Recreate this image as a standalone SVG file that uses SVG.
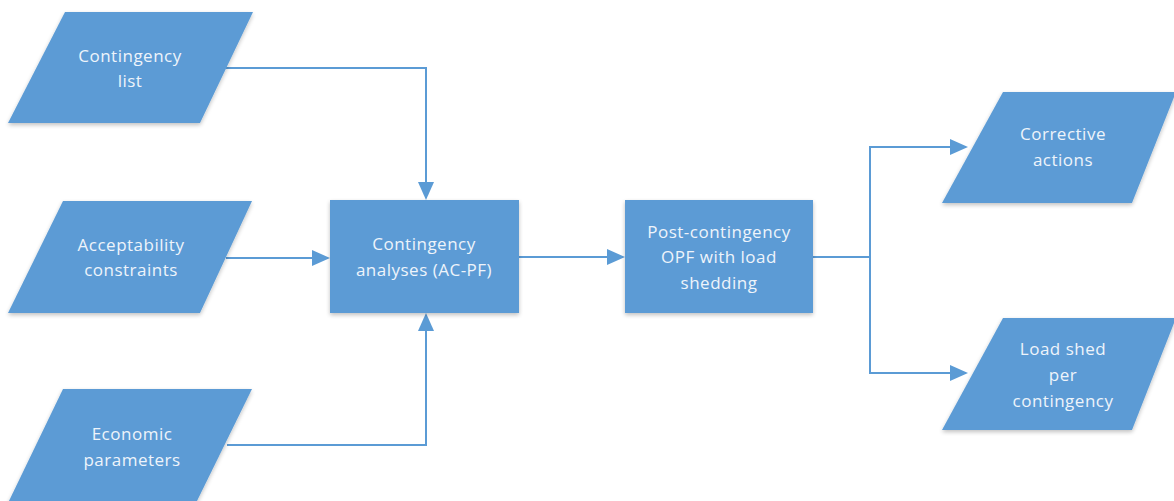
<svg xmlns="http://www.w3.org/2000/svg" width="1174" height="501" viewBox="0 0 1174 501">
<style>
.shape{fill:#5b9bd5;filter:url(#sh)}
.lbl{font-family:"Open Sans","Liberation Sans",sans-serif;font-size:17px;letter-spacing:0.5px;fill:#eef4fb;text-anchor:middle}
.conn{fill:none;stroke:#5b9bd5;stroke-width:2;marker-end:url(#arr)}
</style>
<defs>
<filter id="sh" x="-10%" y="-10%" width="120%" height="130%">
<feGaussianBlur in="SourceAlpha" stdDeviation="2"/>
<feOffset dx="0" dy="2" result="b"/>
<feComponentTransfer><feFuncA type="linear" slope="0.25"/></feComponentTransfer>
<feMerge><feMergeNode/><feMergeNode in="SourceGraphic"/></feMerge>
</filter>
<marker id="arr" markerUnits="userSpaceOnUse" markerWidth="18" markerHeight="16" refX="16" refY="8" orient="auto">
<path d="M0,0 L18,8 L0,16 z" fill="#5b9bd5"/>
</marker>
</defs>
<rect width="1174" height="501" fill="#ffffff"/>
<g id="connectors">
<path class="conn" d="M226,68 H426 V198"/>
<path class="conn" d="M226,258 H328"/>
<path class="conn" d="M227,445 H426 V315"/>
<path class="conn" d="M519,257 H623"/>
<path class="conn" d="M813,257 H870 V147 H966"/>
<path class="conn" d="M870,257 V373 H966"/>
</g>
<g id="contingency-list">
<polygon class="shape" points="65,12 253,12 200,123 8,123"/>
<text class="lbl" x="130" y="62">Contingency</text>
<text class="lbl" x="130" y="87">list</text>
</g>
<g id="acceptability-constraints">
<polygon class="shape" points="63,201 252,201 200,313 8,313"/>
<text class="lbl" x="131" y="251">Acceptability</text>
<text class="lbl" x="131" y="276">constraints</text>
</g>
<g id="economic-parameters">
<polygon class="shape" points="63,389 252,389 196,503 8,503"/>
<text class="lbl" x="132" y="440">Economic</text>
<text class="lbl" x="132" y="466">parameters</text>
</g>
<g id="contingency-analyses">
<rect class="shape" x="330" y="200" width="189" height="113"/>
<text class="lbl" x="424" y="250">Contingency</text>
<text class="lbl" x="424" y="276">analyses (AC-PF)</text>
</g>
<g id="post-contingency-opf">
<rect class="shape" x="625" y="200" width="188" height="113"/>
<text class="lbl" x="719" y="238">Post-contingency</text>
<text class="lbl" x="719" y="263">OPF with load</text>
<text class="lbl" x="719" y="289">shedding</text>
</g>
<g id="corrective-actions">
<polygon class="shape" points="1003,92 1176,92 1132,203 942,203"/>
<text class="lbl" x="1063" y="140">Corrective</text>
<text class="lbl" x="1063" y="166">actions</text>
</g>
<g id="load-shed">
<polygon class="shape" points="1003,318 1176,318 1132,430 942,430"/>
<text class="lbl" x="1063" y="355">Load shed</text>
<text class="lbl" x="1063" y="381">per</text>
<text class="lbl" x="1063" y="407">contingency</text>
</g>
</svg>
